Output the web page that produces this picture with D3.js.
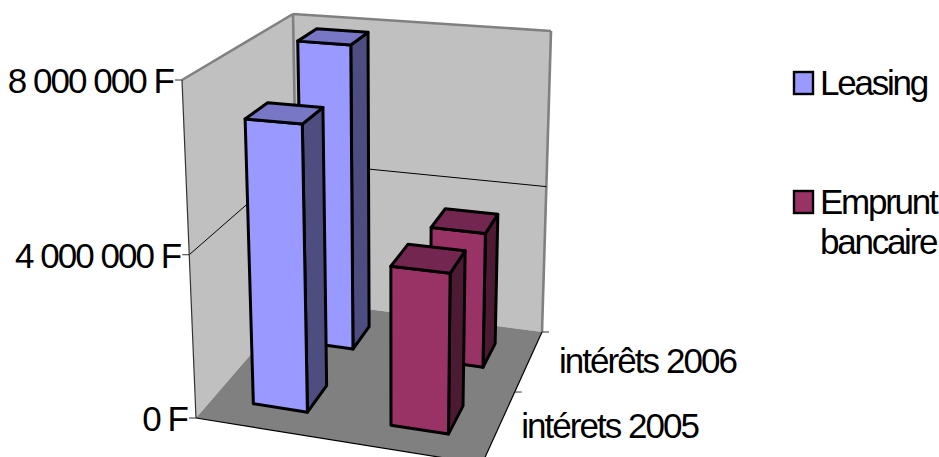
<!DOCTYPE html>
<html>
<head>
<meta charset="utf-8">
<script src="https://cdn.jsdelivr.net/npm/d3@7"></script>
<style>
    html, body { margin: 0; padding: 0; background: #fff; }
    text { font-family: "Liberation Sans", Arial, sans-serif; font-size: 35px; fill: #000; letter-spacing: -1.95px; }
    text.legend { letter-spacing: -2.25px; }
</style>
</head>
<body>
<svg id="vis" width="939" height="457"></svg>
<script>
    // data
    var seriesNames = ["Leasing", "Emprunt bancaire"]
    var categories = ["intérets 2005", "intérêts 2006"]
    var leasing = [6900000, 7900000]
    var emprunt = [3850000, 3500000]
    var yTicks = [0, 4000000, 8000000]
    var yLabels = ["0 F", "4 000 000 F", "8 000 000 F"]
    var seriesColors = ["#9999ff", "#993366"]
    var topColors = ["#7777c6", "#732650"]
    var sideColors = ["#4d4d80", "#4d1a33"]

    var svg = d3.select("#vis")

    // box corners on screen: front-left, front-right, back-right, back-left
    var floorQuad = [[196, 418], [482, 464], [542, 332], [298, 300]]
    var topQuad = [[182, 80], [488, 105], [551, 31], [293, 14]]

    // unit square -> quad
    function homography(q) {
        var dx1 = q[1][0] - q[2][0], dx2 = q[3][0] - q[2][0], sx = q[0][0] - q[1][0] + q[2][0] - q[3][0]
        var dy1 = q[1][1] - q[2][1], dy2 = q[3][1] - q[2][1], sy = q[0][1] - q[1][1] + q[2][1] - q[3][1]
        var det = dx1 * dy2 - dx2 * dy1
        var g = (sx * dy2 - dx2 * sy) / det
        var h = (dx1 * sy - sx * dy1) / det
        return function(u, v) {
            var w = g * u + h * v + 1
            return [
                (q[1][0] - q[0][0] + g * q[1][0]) * u / w + (q[3][0] - q[0][0] + h * q[3][0]) * v / w + q[0][0] / w,
                (q[1][1] - q[0][1] + g * q[1][1]) * u / w + (q[3][1] - q[0][1] + h * q[3][1]) * v / w + q[0][1] / w
            ]
        }
    }
    var floorH = homography(floorQuad)
    var topH = homography(topQuad)

    var x = d3.scaleBand().domain(seriesNames).range([0, 1]).paddingInner(0.6).paddingOuter(0.3)
    var z = d3.scaleBand().domain(categories).range([0, 1]).paddingInner(0.6).paddingOuter(0.3)
    // height is foreshortened a little, so the 4M line sits under the middle
    var y = d3.scaleLinear().domain([0, 4000000, 8000000]).range([0, 0.483, 1])

    function project(u, value, v) {
        var a = floorH(u, v), b = topH(u, v), t = y(value)
        return [a[0] + (b[0] - a[0]) * t, a[1] + (b[1] - a[1]) * t]
    }
    var line = d3.line()
    function face(pts, fill, stroke, w) {
        svg.append("path")
            .attr("d", line(pts) + "Z")
            .attr("fill", fill)
            .attr("stroke", stroke)
            .attr("stroke-width", w)
            .attr("stroke-linejoin", "round")
    }
    function segment(p, q, color, w) {
        svg.append("line")
            .attr("x1", p[0]).attr("y1", p[1])
            .attr("x2", q[0]).attr("y2", q[1])
            .style("stroke", color)
            .style("stroke-width", w)
    }

    var yMax = 8000000
    // Walls and floor
    face([project(0, 0, 1), project(1, 0, 1), project(1, yMax, 1), project(0, yMax, 1)], "#c0c0c0", "none", 0)
    face([project(0, 0, 0), project(0, 0, 1), project(0, yMax, 1), project(0, yMax, 0)], "#c0c0c0", "none", 0)
    face([project(0, 0, 0), project(1, 0, 0), project(1, 0, 1), project(0, 0, 1)], "#808080", "none", 0)

    // wall edges
    segment(project(0, yMax, 0), project(0, yMax, 1), "#808080", 2.6)
    segment(project(0, yMax, 1), project(1, yMax, 1), "#808080", 2.6)
    segment(project(1, yMax, 1), project(1, 0, 1), "#808080", 2.6)
    segment(project(0, yMax, 1), project(0, 0, 1), "#808080", 2.6)

    // gridlines
    yTicks.forEach(function(t, i) {
        if (t > 0 && t < yMax) {
            segment(project(0, t, 0), project(0, t, 1), "#000", 1)
            segment(project(0, t, 1), project(1, t, 1), "#000", 1)
        }
    })

    // axes
    segment(project(0, 0, 0), project(0, yMax, 0), "#333", 1.2)
    segment(project(0, 0, 0), project(1, 0, 0), "#000", 1.2)
    segment(project(1, 0, 0), project(1, 0, 1), "#000", 1.2)

    yTicks.forEach(function(t, i) {
        var p = project(0, t, 0)
        segment([p[0] - 7, p[1]], p, "#333", 1)
        svg.append("text")
            .attr("x", p[0] - 9)
            .attr("y", p[1] + 13)
            .attr("text-anchor", "end")
            .text(yLabels[i])
    })
    ;[0.5, 1].forEach(function(v) {
        var p = project(1, 0, v)
        segment(p, [p[0] + 7, p[1]], "#333", 1)
    })
    var zLabelDx = [22, 30]
    categories.forEach(function(c, i) {
        var p = project(1, 0, z(c) + z.bandwidth() / 2)
        svg.append("text")
            .attr("x", p[0] + zLabelDx[i])
            .attr("y", p[1] + 12)
            .text(c)
    })

    // Bars, back to front
    function drawBar(si, ci, value) {
        var x0 = x(seriesNames[si]), x1 = x0 + x.bandwidth()
        var z0 = z(categories[ci]), z1 = z0 + z.bandwidth()
        face([project(x1, 0, z0), project(x1, 0, z1), project(x1, value, z1), project(x1, value, z0)], sideColors[si], "#000", 3)
        face([project(x0, 0, z0), project(x1, 0, z0), project(x1, value, z0), project(x0, value, z0)], seriesColors[si], "#000", 3)
        face([project(x0, value, z0), project(x1, value, z0), project(x1, value, z1), project(x0, value, z1)], topColors[si], "#000", 3)
    }
    drawBar(0, 1, leasing[1])
    drawBar(1, 1, emprunt[1])
    drawBar(0, 0, leasing[0])
    drawBar(1, 0, emprunt[0])

    // Legend
    var legendY = [72, 191]
    var legendLines = [["Leasing"], ["Emprunt", "bancaire"]]
    seriesNames.forEach(function(s, i) {
        svg.append("rect")
            .attr("x", 794).attr("y", legendY[i])
            .attr("width", 19).attr("height", 22)
            .attr("fill", seriesColors[i])
            .attr("stroke", "#000")
            .attr("stroke-width", 2.4)
        legendLines[i].forEach(function(t, j) {
            svg.append("text")
                .attr("class", "legend")
                .attr("x", 820)
                .attr("y", legendY[i] + 23 + j * 39.5)
                .text(t)
        })
    })
</script>
</body>
</html>
